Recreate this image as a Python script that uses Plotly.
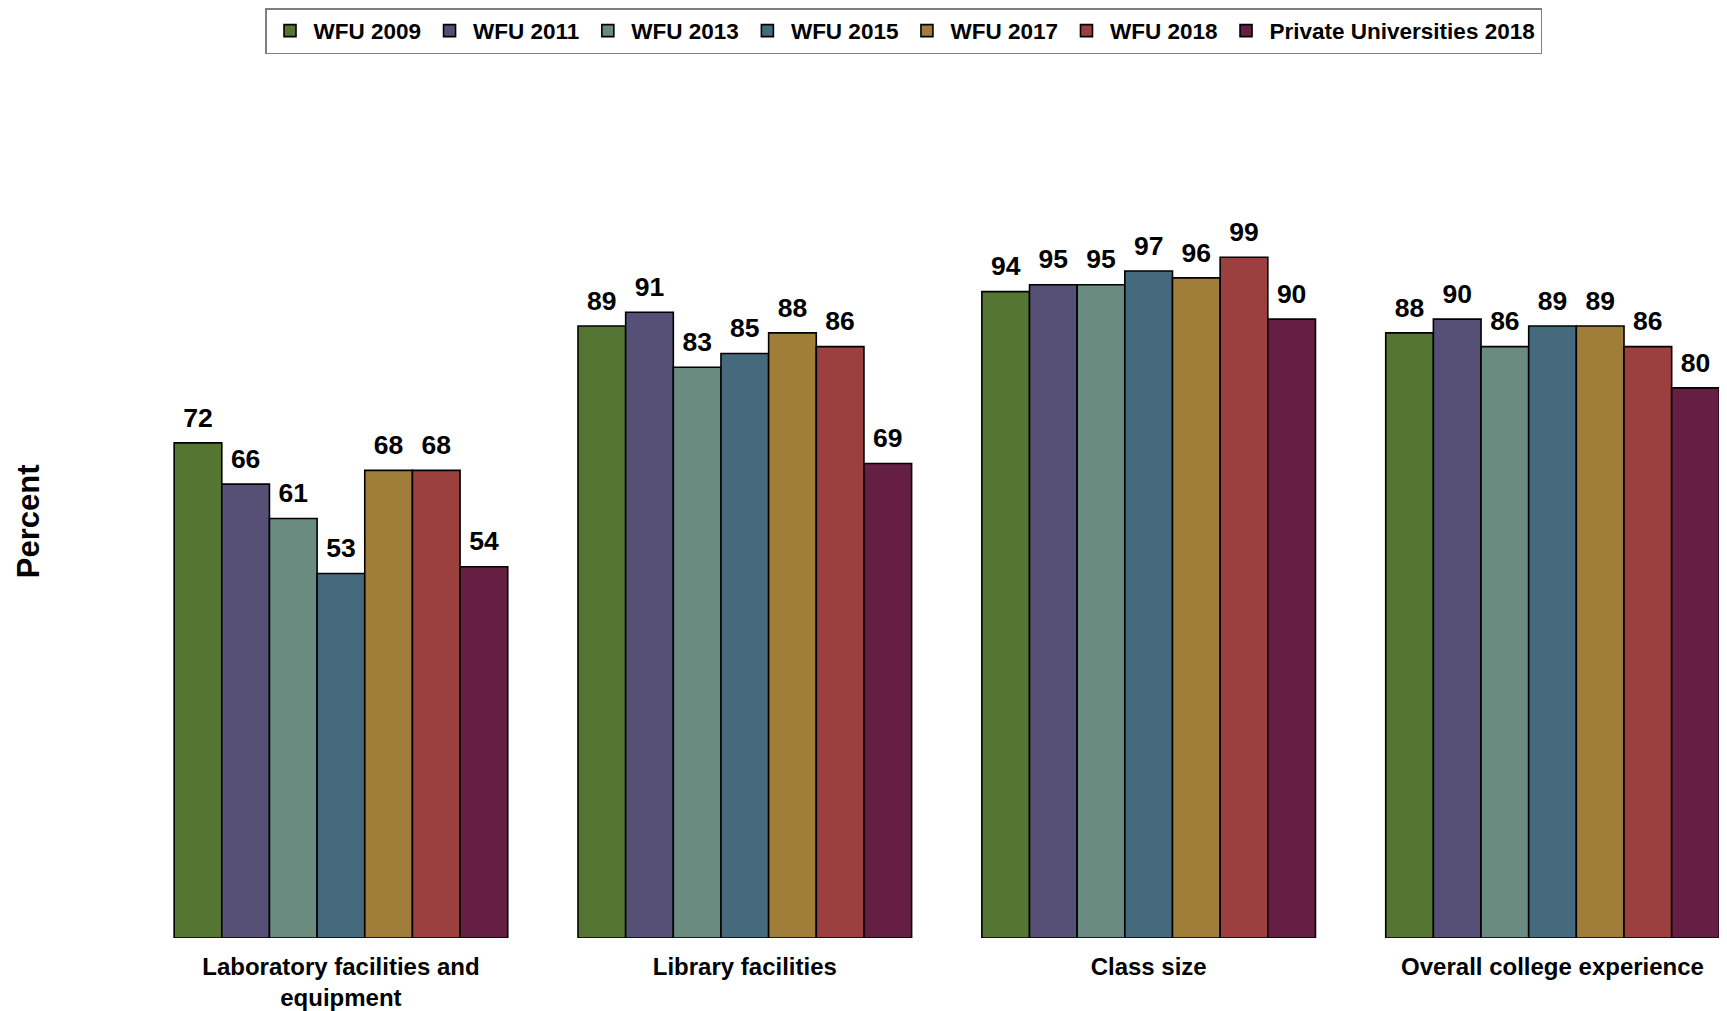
import plotly.graph_objects as go

categories = ["Laboratory facilities and<br>equipment", "Library facilities", "Class size", "Overall college experience"]
series_names = ["WFU 2009", "WFU 2011", "WFU 2013", "WFU 2015", "WFU 2017", "WFU 2018", "Private Universities 2018"]
wfu_2009 = [72, 89, 94, 88]
wfu_2011 = [66, 91, 95, 90]
wfu_2013 = [61, 83, 95, 86]
wfu_2015 = [53, 85, 97, 89]
wfu_2017 = [68, 88, 96, 89]
wfu_2018 = [68, 86, 99, 86]
private_2018 = [54, 69, 90, 80]
series_values = [wfu_2009, wfu_2011, wfu_2013, wfu_2015, wfu_2017, wfu_2018, private_2018]
colors = ["#557632", "#575076", "#6a8b7f", "#456a7e", "#a07e3a", "#9c3f3f", "#641f42"]

FONT = "Liberation Sans, Arial, sans-serif"

fig = go.Figure()
for name, vals, col in zip(series_names, series_values, colors):
    fig.add_trace(go.Bar(
        name=name, x=categories, y=vals,
        marker=dict(color=col, line=dict(color="black", width=1.6)),
        hoverinfo="x+y+name",
    ))
# value labels, grouped like the bars, set a little above each bar
for name, vals in zip(series_names, series_values):
    fig.add_trace(go.Scatter(
        name=name, x=categories, y=vals, mode="markers+text",
        marker=dict(size=14, opacity=0), text=[str(v) for v in vals],
        textposition="top center", showlegend=False, hoverinfo="skip",
        textfont=dict(family=FONT, size=26.5, color="black", weight="bold"),
        cliponaxis=False,
    ))

fig.add_annotation(
    text="Percent", xref="paper", yref="paper", x=-0.0696, y=0.578,
    xanchor="center", yanchor="middle", borderpad=0,
    textangle=-90, showarrow=False,
    font=dict(family=FONT, size=31, color="black", weight="bold"),
)

fig.update_layout(
    width=1719, height=1003,
    margin=dict(l=131, r=0, t=207.5, b=66),
    barmode="group", bargap=0.174, bargroupgap=0,
    scattermode="group", scattergap=0.174,
    plot_bgcolor="white", paper_bgcolor="white",
    font=dict(family=FONT, color="black"),
    showlegend=True,
    legend=dict(
        orientation="h", xref="container", yref="container",
        x=257 / 1719, y=1, xanchor="left", yanchor="top",
        bordercolor="#7f7f7f", borderwidth=1.5, itemwidth=37,
        font=dict(family=FONT, size=22.5, color="black", weight="bold"),
        traceorder="normal",
    ),
    xaxis=dict(
        type="category", range=[-0.5, 3.432], showline=False, ticks="",
        showgrid=False, zeroline=False, ticklabelstandoff=12,
        tickfont=dict(family=FONT, size=24, color="black", weight="bold"),
    ),
    yaxis=dict(
        range=[0, 105], showticklabels=False, showgrid=False,
        zeroline=False, showline=False, ticks="",
    ),
)

fig.write_html("out.html")
